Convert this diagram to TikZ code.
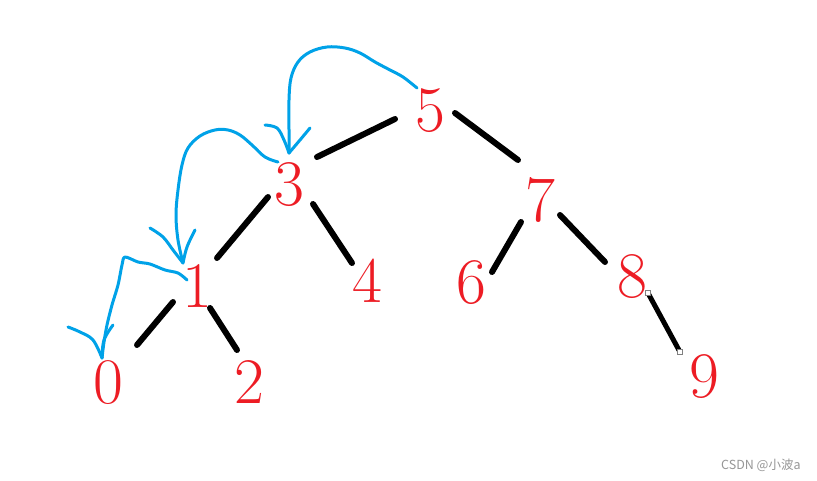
\documentclass[tikz,border=0pt]{standalone}
\usepackage{fontspec}
\newfontfamily\cjk{Noto Sans CJK SC}
\definecolor{paintred}{RGB}{237,28,36}
\definecolor{paintblue}{RGB}{0,162,232}
\definecolor{wmgray}{RGB}{150,150,150}
\begin{document}
\begin{tikzpicture}[x=1pt,y=-1pt,
  digit/.style={text=paintred,inner sep=0pt,anchor=center,font=\fontsize{65}{65}\selectfont},
  edge/.style={line width=6pt,line cap=round,black},
  thinedge/.style={line width=5pt,line cap=round,black},
  hand/.style={paintblue,line width=3pt,line cap=round,line join=round},
  handle/.style={draw=gray,fill=white,line width=0.8pt,minimum size=5pt,inner sep=0pt}]
\useasboundingbox[fill=white] (0,0) rectangle (817,480);
% nodes
\node[digit] (n5) at (430,111) {5};
\node[digit] (n3) at (289,185) {3};
\node[digit] (n7) at (540,200) {7};
\node[digit] (n1) at (197,286) {1};
\node[digit] (n4) at (367,281) {4};
\node[digit] (n6) at (471,283) {6};
\node[digit] (n8) at (632,277) {8};
\node[digit] (n0) at (108,383) {0};
\node[digit] (n2) at (249,382) {2};
\node[digit] (n9) at (704,377) {9};
% edges
\draw[edge] ([shift={(-35,8)}]n5.center) -- ([shift={(28,-28)}]n3.center);
\draw[edge] ([shift={(25,2)}]n5.center) -- ([shift={(-22,-40)}]n7.center);
\draw[edge] ([shift={(-21,12)}]n3.center) -- ([shift={(20,-28)}]n1.center);
\draw[edge] ([shift={(24,19)}]n3.center) -- ([shift={(-15,-18)}]n4.center);
\draw[edge] ([shift={(-19,22)}]n7.center) -- ([shift={(21,-11)}]n6.center);
\draw[edge] ([shift={(20,15)}]n7.center) -- ([shift={(-27,-15)}]n8.center);
\draw[edge] ([shift={(-24,16)}]n1.center) -- ([shift={(29,-38)}]n0.center);
\draw[edge] ([shift={(13,22)}]n1.center) -- ([shift={(-12,-32)}]n2.center);
\draw[thinedge] ([shift={(16,16)}]n8.center) coordinate (h1) -- ([shift={(-24,-25)}]n9.center) coordinate (h2);
\node[handle] (hs1) at (h1) {};
\node[handle] (hs2) at (h2) {};
% blue hand-drawn arrows
\draw[hand] plot[smooth,tension=0.6] coordinates {([shift={(-13,-23)}]n5.center) (403,77) (390,70) (375,62) (360,53) (345,48) (327,47) (310,52) (298,62) (291,78) (289,100) (289,130) ([shift={(0,-32)}]n3.center)};
\draw[hand] plot[smooth,tension=0.6] coordinates {(265,125) (277,128) (284,140) ([shift={(0,-32)}]n3.center)};
\draw[hand] plot[smooth,tension=0.6] coordinates {(310,128) (300,140) ([shift={(0,-32)}]n3.center)};
\draw[hand] plot[smooth,tension=0.6] coordinates {([shift={(-11,-23)}]n3.center) (265,157) (252,145) (240,135) (228,130) (215,130) (200,136) (188,148) (182,165) (178,190) (176,215) (178,240) ([shift={(-14,-23)}]n1.center)};
\draw[hand] plot[smooth,tension=0.6] coordinates {(150,228) (163,237) (173,250) ([shift={(-14,-23)}]n1.center)};
\draw[hand] plot[smooth,tension=0.6] coordinates {(195,230) (187,247) ([shift={(-14,-23)}]n1.center)};
\draw[hand] plot[smooth,tension=0.5] coordinates {([shift={(-10,-6)}]n1.center) (178,273) (165,270) (150,264) (138,262) (125,257) (122,265) (118,285) (112,305) (107,325) (104,342) ([shift={(-6,-25)}]n0.center)};
\draw[hand] plot[smooth,tension=0.6] coordinates {(68,327) (80,332) (93,340) ([shift={(-6,-25)}]n0.center)};
\draw[hand] plot[smooth,tension=0.6] coordinates {(113,325) (104,340) ([shift={(-6,-25)}]n0.center)};
% watermark
\node[anchor=west,inner sep=0pt,text=wmgray,font=\cjk\fontsize{12.5}{12.5}\selectfont] (wm) at (721,465) {CSDN @小波a};
\end{tikzpicture}
\end{document}
